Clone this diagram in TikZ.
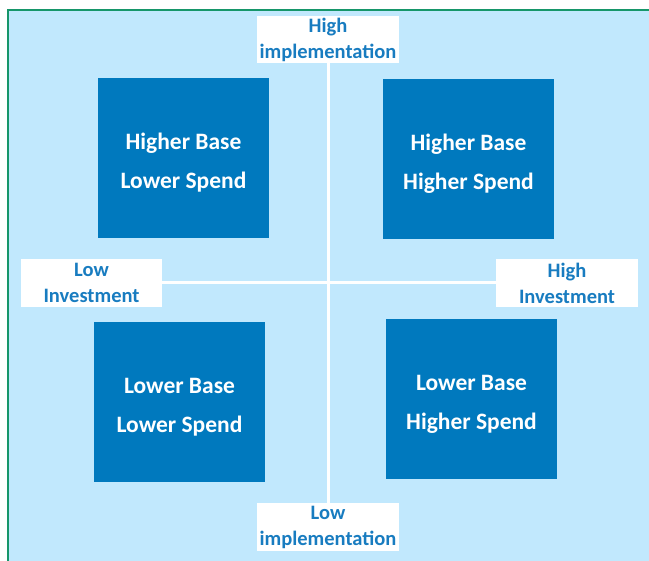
\documentclass[tikz,border=0pt]{standalone}
\usepackage{fontspec}
\setmainfont{Carlito}
\definecolor{bgblue}{RGB}{193,232,253}
\definecolor{boxblue}{RGB}{0,121,190}
\definecolor{lbltext}{RGB}{24,124,192}
\definecolor{edgegreen}{RGB}{22,150,106}
\newcommand{\quadtext}[2]{\raisebox{-3pt}[\height][\depth]{\begin{tabular}{@{}c@{}}#1\\#2\end{tabular}}}
\tikzset{
  quad/.style={fill=boxblue, draw=none, minimum width=171pt, minimum height=160pt,
    inner sep=0pt, text=white, font=\bfseries\fontsize{23.5}{39}\selectfont},
  axislabel/.style={fill=white, draw=none, minimum width=142pt, minimum height=47pt,
    inner sep=0pt, text=lbltext, align=center, font=\bfseries\fontsize{20.5}{26}\selectfont},
  axisline/.style={draw=white, line width=3pt}
}
\begin{document}
\begin{tikzpicture}[x=1pt,y=-1pt]
\useasboundingbox (0,0) rectangle (649,561);
\fill[white] (0,0) rectangle (649,561);
\fill[bgblue] (9,11) rectangle (649,561);
\draw[edgegreen, line width=2pt] (8,561) -- (8,10.5) -- (649,10.5);

\node[quad] (hbls) at (183.5,158) {\quadtext{Higher Base}{Lower Spend}};
\node[quad] (hbhs) at (468.5,159) {\quadtext{Higher Base}{Higher Spend}};
\node[quad] (lbls) at (179.5,402) {\quadtext{Lower Base}{Lower Spend}};
\node[quad] (lbhs) at (471.5,399) {\quadtext{Lower Base}{Higher Spend}};

\node[axislabel] (himp) at (328,39.5) {High\\implementation};
\node[axislabel, minimum height=48pt] (limp) at (328,527) {Low\\implementation};
\node[axislabel, minimum width=141pt, minimum height=48pt] (linv) at (91.5,283) {Low\\Investment};
\node[axislabel, minimum height=48pt] (hinv) at (567,283) {High\\Investment};

\draw[axisline] (himp.south) -- (limp.north);
\draw[axisline] (linv.east) -- (hinv.west);
\end{tikzpicture}
\end{document}
